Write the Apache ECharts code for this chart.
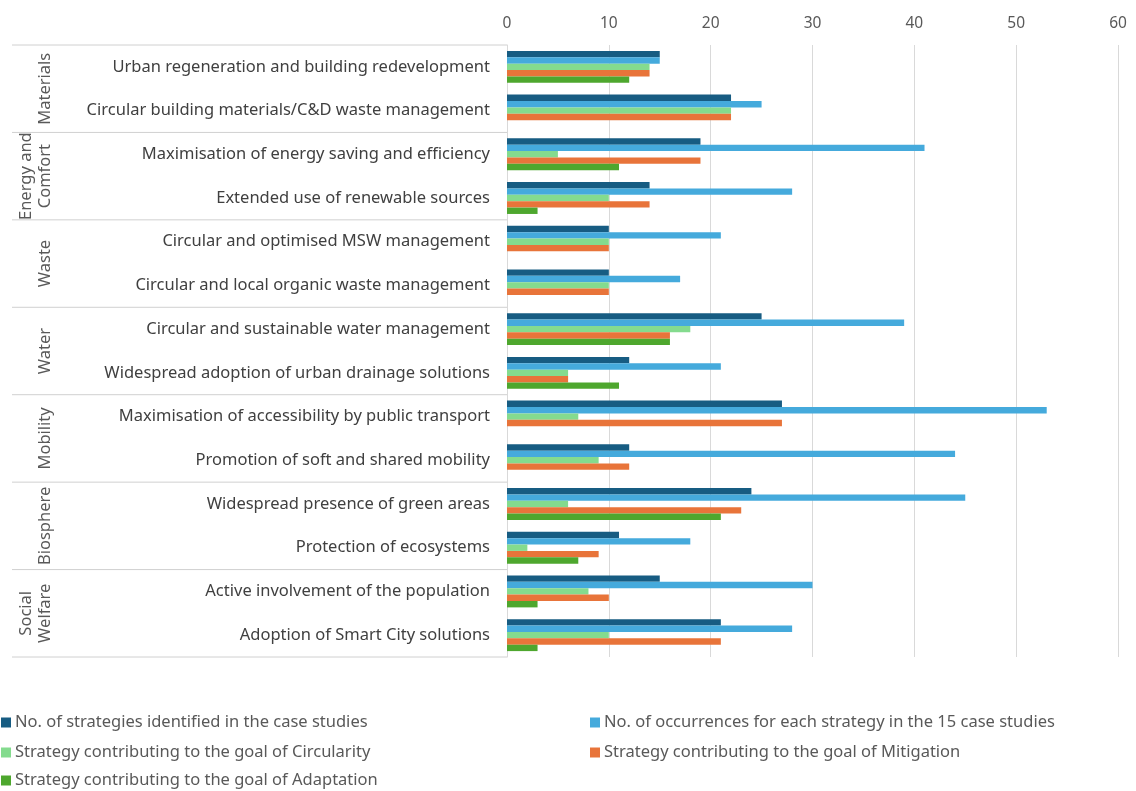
<!DOCTYPE html>
<html><head><meta charset="utf-8">
<script src="https://cdn.jsdelivr.net/npm/echarts@6/dist/echarts.min.js"></script>
<style>html,body{margin:0;padding:0;background:#fff}#c{width:1136px;height:791px}</style>
</head><body><div id="c"></div>
<script>
const categories = [
  "Urban regeneration and building redevelopment",
  "Circular building materials/C&D waste management",
  "Maximisation of energy saving and efficiency",
  "Extended use of renewable sources",
  "Circular and optimised MSW management",
  "Circular and local organic waste management",
  "Circular and sustainable water management",
  "Widespread adoption of urban drainage solutions",
  "Maximisation of accessibility by public transport",
  "Promotion of soft and shared mobility",
  "Widespread presence of green areas",
  "Protection of ecosystems",
  "Active involvement of the population",
  "Adoption of Smart City solutions"
];
const groups = [
  ["Materials"], ["Energy and", "Comfort"], ["Waste"], ["Water"],
  ["Mobility"], ["Biosphere"], ["Social", "Welfare"]
];
const groupSize = [2, 2, 2, 2, 2, 2, 2];
const seriesNames = [
  "No. of strategies identified in the case studies",
  "No. of occurrences for each strategy in the 15 case studies",
  "Strategy contributing to the goal of Circularity",
  "Strategy contributing to the goal of Mitigation",
  "Strategy contributing to the goal of Adaptation"
];
const identified  = [15, 22, 19, 14, 10, 10, 25, 12, 27, 12, 24, 11, 15, 21];
const occurrences = [15, 25, 41, 28, 21, 17, 39, 21, 53, 44, 45, 18, 30, 28];
const circularity = [14, 22, 5, 10, 10, 10, 18, 6, 7, 9, 6, 2, 8, 10];
const mitigation  = [14, 22, 19, 14, 10, 10, 16, 6, 27, 12, 23, 9, 10, 21];
const adaptation  = [12, 0, 11, 3, 0, 0, 16, 11, 0, 0, 21, 7, 3, 3];
const xTicks = [0, 10, 20, 30, 40, 50, 60];

const colors = ["#175C82", "#45AADC", "#84DB8E", "#E8743A", "#4EA72E"];
const font = "Noto Sans";
const seriesData = [identified, occurrences, circularity, mitigation, adaptation];

// legend placement: [left, top] per series
const legendPos = [[1, 714], [590, 714], [1, 744], [590, 744], [1, 772]];

const chart = echarts.init(document.getElementById('c'));
const option = {
  animation: false,
  textStyle: { fontFamily: font },
  grid: { left: 507, right: 18, top: 45, bottom: 134, containLabel: false },
  xAxis: {
    type: 'value', position: 'top', min: xTicks[0], max: xTicks[xTicks.length - 1], interval: 10,
    axisLine: { show: false }, axisTick: { show: false },
    axisLabel: { color: '#595959', fontSize: 15.5, margin: 13, fontFamily: font },
    splitLine: { lineStyle: { color: '#d9d9d9', width: 1 } }
  },
  yAxis: {
    type: 'category', data: categories, inverse: true,
    axisLine: { show: true, lineStyle: { color: '#d9d9d9' } },
    axisTick: { show: false },
    axisLabel: { color: '#404040', fontSize: 16.5, margin: 17, fontFamily: font }
  },
  legend: seriesNames.map((n, i) => ({
    data: [n], left: legendPos[i][0], top: legendPos[i][1], padding: 0,
    itemWidth: 10, itemHeight: 10, itemGap: 4, icon: 'rect',
    textStyle: { color: '#595959', fontSize: 16.5, fontFamily: font, padding: [0, 0, 0, -1] }
  })),
  series: seriesNames.map((n, i) => ({
    name: n, type: 'bar', data: seriesData[i], barGap: '0%', barCategoryGap: '27%',
    itemStyle: { color: colors[i] }
  }))
};
chart.setOption(option);

// group labels and separators computed from the axis scale
const graphics = [];
const band = chart.convertToPixel({ yAxisIndex: 0 }, 1) - chart.convertToPixel({ yAxisIndex: 0 }, 0);
let idx = 0;
const yTop0 = chart.convertToPixel({ yAxisIndex: 0 }, 0) - band / 2;
graphics.push({ type: 'line', shape: { x1: 12, y1: yTop0, x2: 507, y2: yTop0 }, style: { stroke: '#d0d0d0', lineWidth: 1 } });
groups.forEach((g, gi) => {
  const start = idx, end = idx + groupSize[gi] - 1;
  const yStart = chart.convertToPixel({ yAxisIndex: 0 }, start) - band / 2;
  const yEnd = chart.convertToPixel({ yAxisIndex: 0 }, end) + band / 2;
  const yMid = (yStart + yEnd) / 2;
  graphics.push({ type: 'line', shape: { x1: 12, y1: yEnd, x2: 507, y2: yEnd }, style: { stroke: '#d0d0d0', lineWidth: 1 } });
  const lines = g.length;
  g.forEach((t, li) => {
    const x = 45 - (lines - 1 - li) * 19;
    graphics.push({
      type: 'text', x: x, y: yMid, rotation: Math.PI / 2,
      style: { text: t, fill: '#595959', font: '16.5px ' + font, align: 'center', verticalAlign: 'middle' }
    });
  });
  idx = end + 1;
});
chart.setOption({ graphic: graphics });
</script></body></html>
